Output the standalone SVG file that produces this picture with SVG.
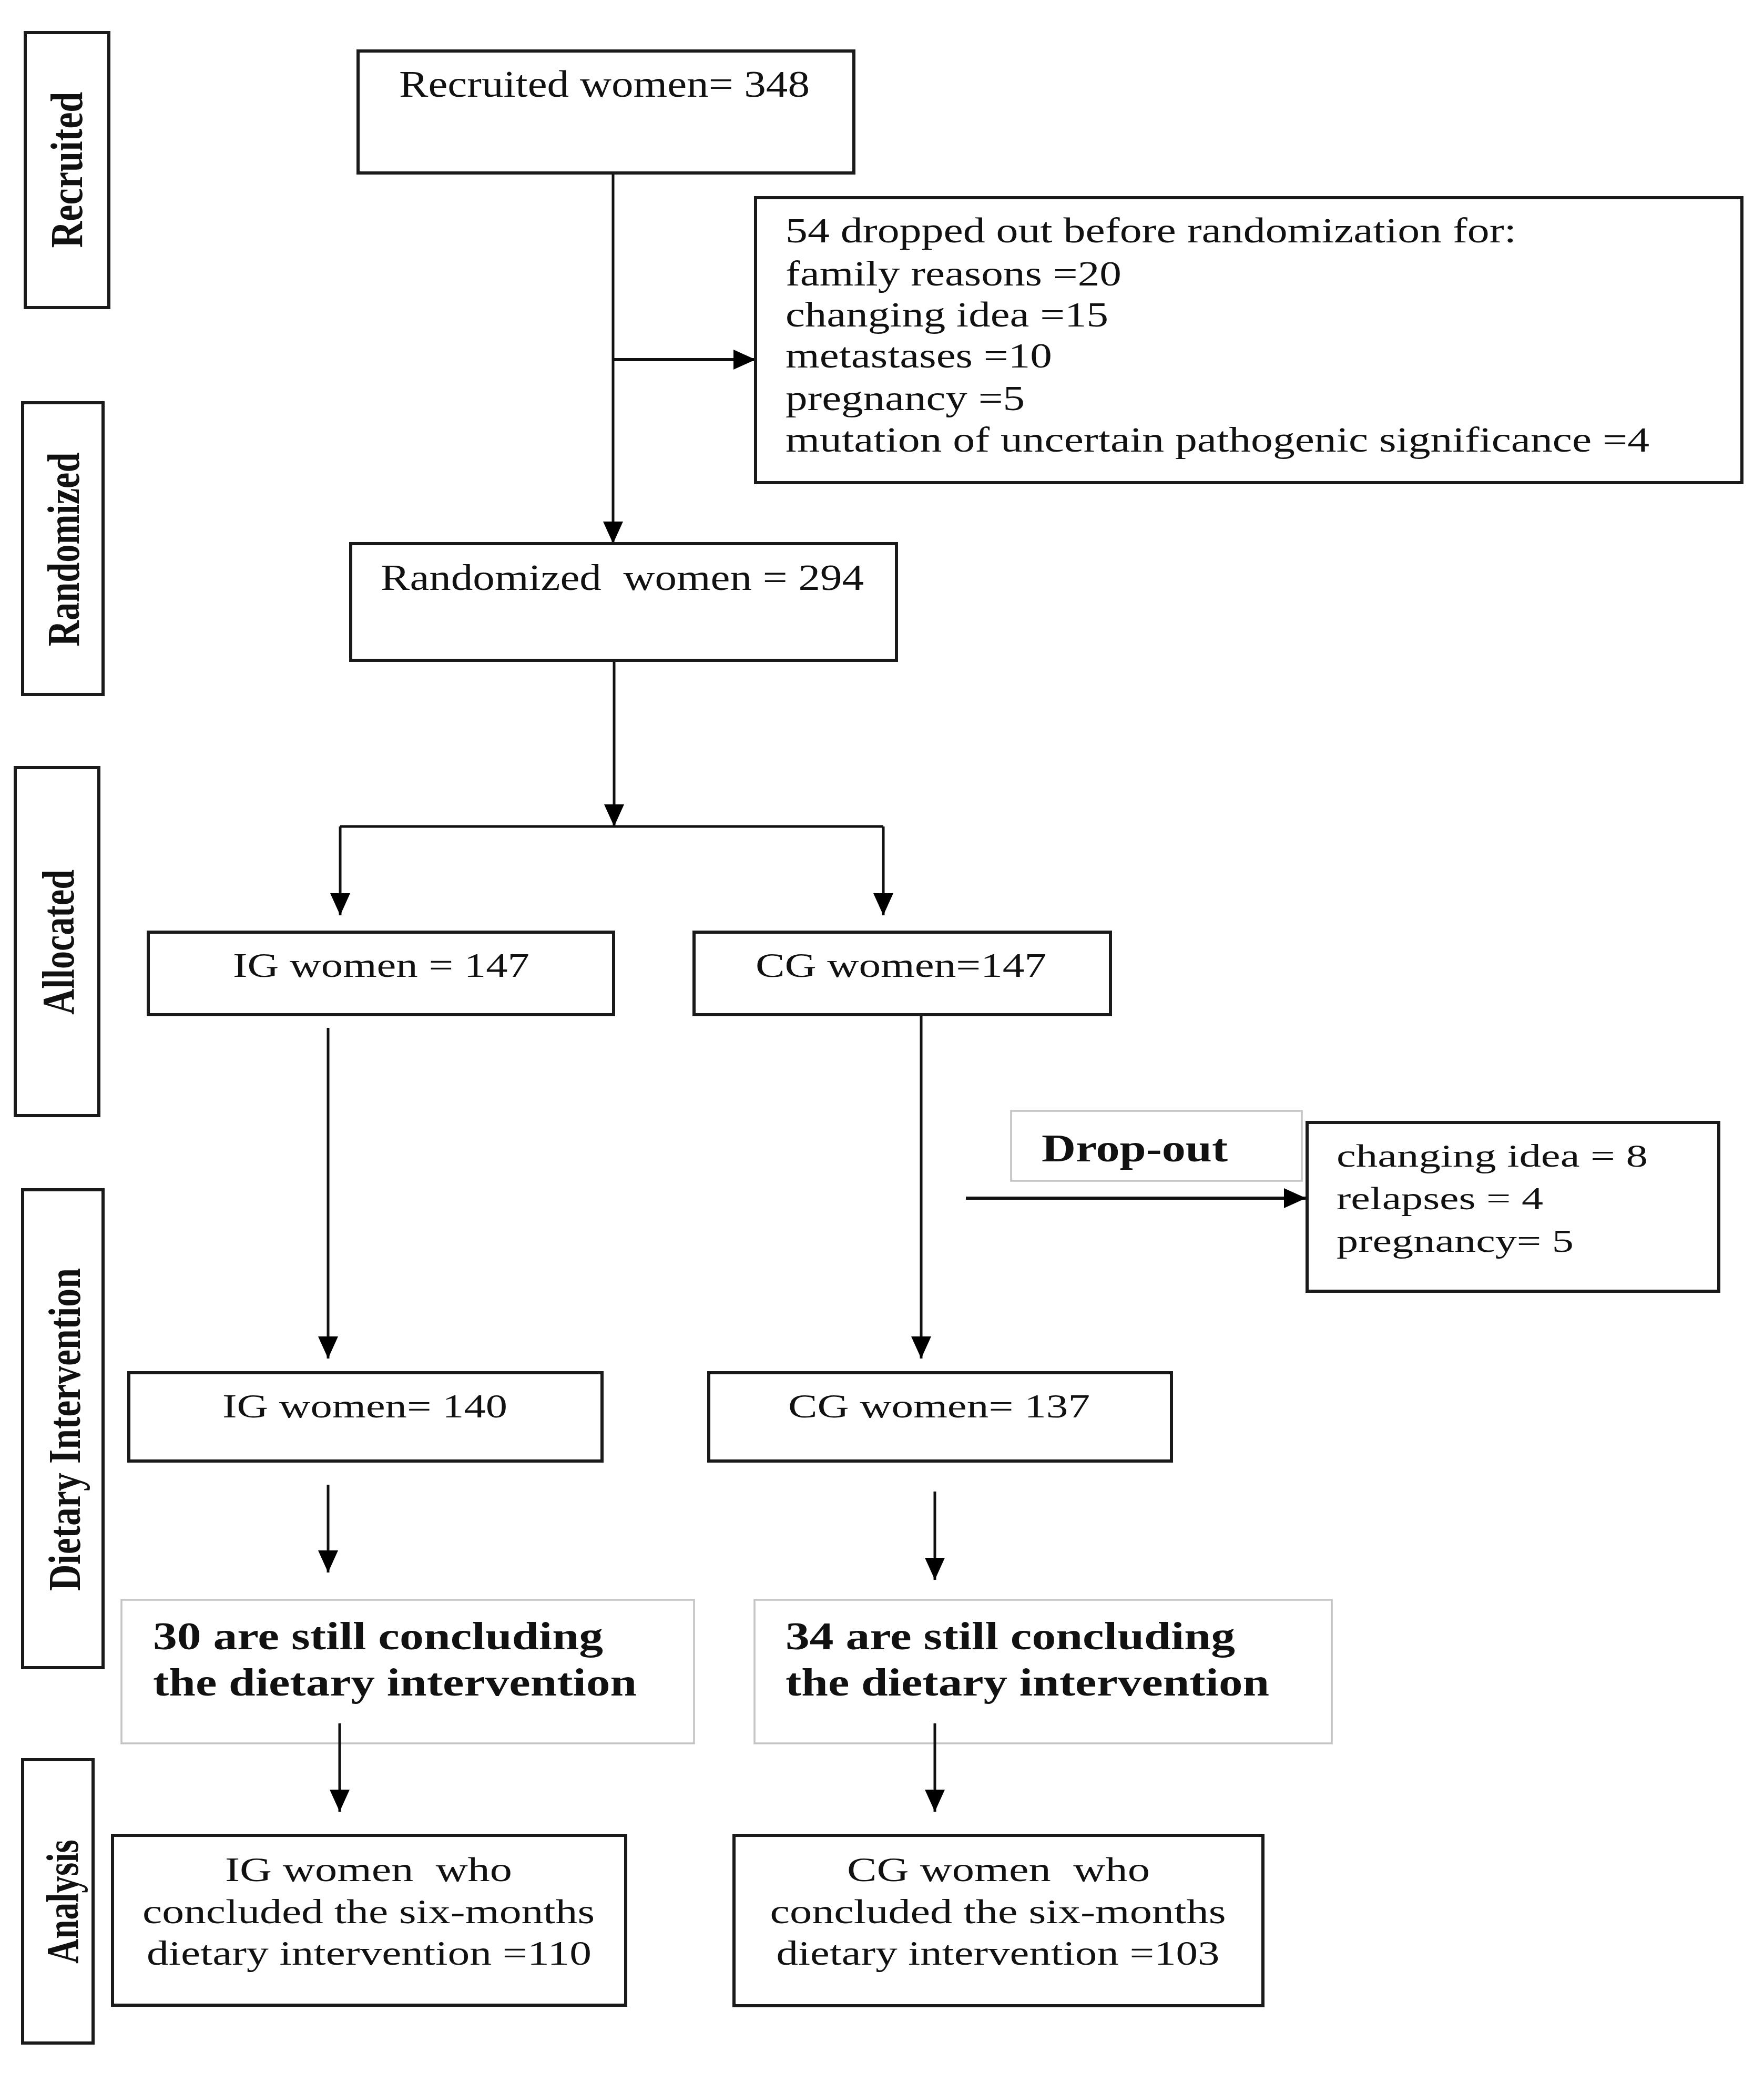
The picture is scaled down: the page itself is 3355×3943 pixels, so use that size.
<svg xmlns="http://www.w3.org/2000/svg" width="3355" height="3943" viewBox="0 0 3355 3943">
<defs>
<marker id="ah" viewBox="0 0 42 42" refX="42" refY="21" markerWidth="42" markerHeight="42" markerUnits="userSpaceOnUse" orient="auto">
<path d="M0,2 L42,21 L0,40 z" fill="#000"/>
</marker>
</defs>
<style>
.box{fill:#fff;stroke:#1a1a1a;stroke-width:6}
.gbox{fill:#fff;stroke:#c4c4c4;stroke-width:3.5}
.side{fill:#fff;stroke:#1a1a1a;stroke-width:6}
.t{font-family:"Liberation Serif","Times New Roman",serif;fill:#111}
.b{font-family:"Liberation Serif","Times New Roman",serif;font-weight:bold;fill:#111}
.vl{font-family:"Liberation Serif","Times New Roman",serif;font-weight:bold;fill:#111;font-size:86px;text-anchor:middle}
.c{fill:none;stroke:#111;stroke-width:5}
.ca{fill:none;stroke:#111;stroke-width:5;marker-end:url(#ah)}
.cat{fill:none;stroke:#111;stroke-width:6;marker-end:url(#ah)}
</style>
<rect width="3355" height="3943" fill="#fff"/>

<g id="side-recruited">
<rect class="side" x="48" y="62" width="159" height="523"/>
<text class="vl" transform="translate(156,323) rotate(-90)" textLength="297" lengthAdjust="spacingAndGlyphs">Recruited</text>
</g>
<g id="side-randomized">
<rect class="side" x="43" y="766" width="153" height="555"/>
<text class="vl" transform="translate(150,1045) rotate(-90)" textLength="369" lengthAdjust="spacingAndGlyphs">Randomized</text>
</g>
<g id="side-allocated">
<rect class="side" x="29" y="1460" width="159" height="662"/>
<text class="vl" transform="translate(140,1792) rotate(-90)" textLength="276" lengthAdjust="spacingAndGlyphs">Allocated</text>
</g>
<g id="side-dietary">
<rect class="side" x="43" y="2263" width="153" height="909"/>
<text class="vl" transform="translate(152,2719) rotate(-90)" textLength="614" lengthAdjust="spacingAndGlyphs">Dietary Intervention</text>
</g>
<g id="side-analysis">
<rect class="side" x="43" y="3347" width="134" height="539"/>
<text class="vl" transform="translate(148,3617) rotate(-90)" textLength="236" lengthAdjust="spacingAndGlyphs">Analysis</text>
</g>

<g id="connectors">
<line class="ca" x1="1166" y1="329" x2="1166" y2="1034"/>
<line class="cat" x1="1166" y1="684" x2="1437" y2="684"/>
<line class="ca" x1="1168" y1="1256" x2="1168" y2="1572"/>
<line class="c" x1="647" y1="1572" x2="1680" y2="1572"/>
<line class="ca" x1="647" y1="1572" x2="647" y2="1741"/>
<line class="ca" x1="1680" y1="1572" x2="1680" y2="1741"/>
<line class="ca" x1="624" y1="1955" x2="624" y2="2584"/>
<line class="ca" x1="1752" y1="1930" x2="1752" y2="2584"/>
<line class="cat" x1="1837" y1="2279" x2="2484" y2="2279"/>
<line class="ca" x1="624" y1="2824" x2="624" y2="2991"/>
<line class="ca" x1="1778" y1="2837" x2="1778" y2="3005"/>
</g>

<g id="recruited">
<rect class="box" x="681" y="97" width="943" height="232"/>
<text class="t" x="759" y="184" font-size="72" textLength="781" lengthAdjust="spacingAndGlyphs">Recruited women= 348</text>
</g>

<g id="dropped-before">
<rect class="box" x="1437" y="376" width="1876" height="542"/>
<g class="t" font-size="67">
<text x="1494" y="461" textLength="1390" lengthAdjust="spacingAndGlyphs">54 dropped out before randomization for:</text>
<text x="1494" y="543" textLength="639" lengthAdjust="spacingAndGlyphs">family reasons =20</text>
<text x="1494" y="621" textLength="614" lengthAdjust="spacingAndGlyphs">changing idea =15</text>
<text x="1494" y="699" textLength="507" lengthAdjust="spacingAndGlyphs">metastases =10</text>
<text x="1494" y="780" textLength="455" lengthAdjust="spacingAndGlyphs">pregnancy =5</text>
<text x="1494" y="859" textLength="1643" lengthAdjust="spacingAndGlyphs">mutation of uncertain pathogenic significance =4</text>
</g>
</g>

<g id="randomized">
<rect class="box" x="667" y="1034" width="1038" height="222"/>
<text class="t" x="724" y="1122" font-size="70" textLength="919" lengthAdjust="spacingAndGlyphs" xml:space="preserve">Randomized  women = 294</text>
</g>

<g id="ig-allocated">
<rect class="box" x="282" y="1773" width="885" height="157"/>
<text class="t" x="443" y="1858" font-size="66" textLength="564" lengthAdjust="spacingAndGlyphs">IG women = 147</text>
</g>
<g id="cg-allocated">
<rect class="box" x="1320" y="1773" width="792" height="157"/>
<text class="t" x="1437" y="1858" font-size="66" textLength="553" lengthAdjust="spacingAndGlyphs">CG women=147</text>
</g>

<g id="dropout-label">
<rect class="gbox" x="1923" y="2113" width="553" height="133"/>
<text class="b" x="1981" y="2209" font-size="74" textLength="354" lengthAdjust="spacingAndGlyphs">Drop-out</text>
</g>
<g id="dropout-reasons">
<rect class="box" x="2486" y="2135" width="783" height="321"/>
<g class="t" font-size="62">
<text x="2542" y="2219" textLength="592" lengthAdjust="spacingAndGlyphs">changing idea = 8</text>
<text x="2542" y="2300" textLength="393" lengthAdjust="spacingAndGlyphs">relapses = 4</text>
<text x="2542" y="2381" textLength="451" lengthAdjust="spacingAndGlyphs">pregnancy= 5</text>
</g>
</g>

<g id="ig-intervention">
<rect class="box" x="245" y="2611" width="900" height="168"/>
<text class="t" x="423" y="2696" font-size="63" textLength="542" lengthAdjust="spacingAndGlyphs">IG women= 140</text>
</g>
<g id="cg-intervention">
<rect class="box" x="1348" y="2611" width="880" height="168"/>
<text class="t" x="1499" y="2696" font-size="63" textLength="574" lengthAdjust="spacingAndGlyphs">CG women= 137</text>
</g>

<g id="ig-concluding">
<rect class="gbox" x="231" y="3043" width="1089" height="273"/>
<g class="b" font-size="74">
<text x="291" y="3137" textLength="856" lengthAdjust="spacingAndGlyphs">30 are still concluding</text>
<text x="291" y="3225" textLength="920" lengthAdjust="spacingAndGlyphs">the dietary intervention</text>
</g>
</g>
<g id="cg-concluding">
<rect class="gbox" x="1435" y="3043" width="1098" height="273"/>
<g class="b" font-size="74">
<text x="1494" y="3137" textLength="855" lengthAdjust="spacingAndGlyphs">34 are still concluding</text>
<text x="1494" y="3225" textLength="920" lengthAdjust="spacingAndGlyphs">the dietary intervention</text>
</g>
</g>

<g id="connectors-lower">
<line class="ca" x1="646" y1="3278" x2="646" y2="3446"/>
<line class="ca" x1="1778" y1="3278" x2="1778" y2="3446"/>
</g>

<g id="ig-analysis">
<rect class="box" x="214" y="3491" width="976" height="323"/>
<g class="t" font-size="65" text-anchor="middle">
<text x="701" y="3578" textLength="546" lengthAdjust="spacingAndGlyphs" xml:space="preserve">IG women  who</text>
<text x="701" y="3658" textLength="860" lengthAdjust="spacingAndGlyphs">concluded the six-months</text>
<text x="702" y="3737" textLength="846" lengthAdjust="spacingAndGlyphs">dietary intervention =110</text>
</g>
</g>
<g id="cg-analysis">
<rect class="box" x="1396" y="3491" width="1006" height="324"/>
<g class="t" font-size="65" text-anchor="middle">
<text x="1899" y="3578" textLength="576" lengthAdjust="spacingAndGlyphs" xml:space="preserve">CG women  who</text>
<text x="1898" y="3658" textLength="867" lengthAdjust="spacingAndGlyphs">concluded the six-months</text>
<text x="1898" y="3737" textLength="843" lengthAdjust="spacingAndGlyphs">dietary intervention =103</text>
</g>
</g>
</svg>
